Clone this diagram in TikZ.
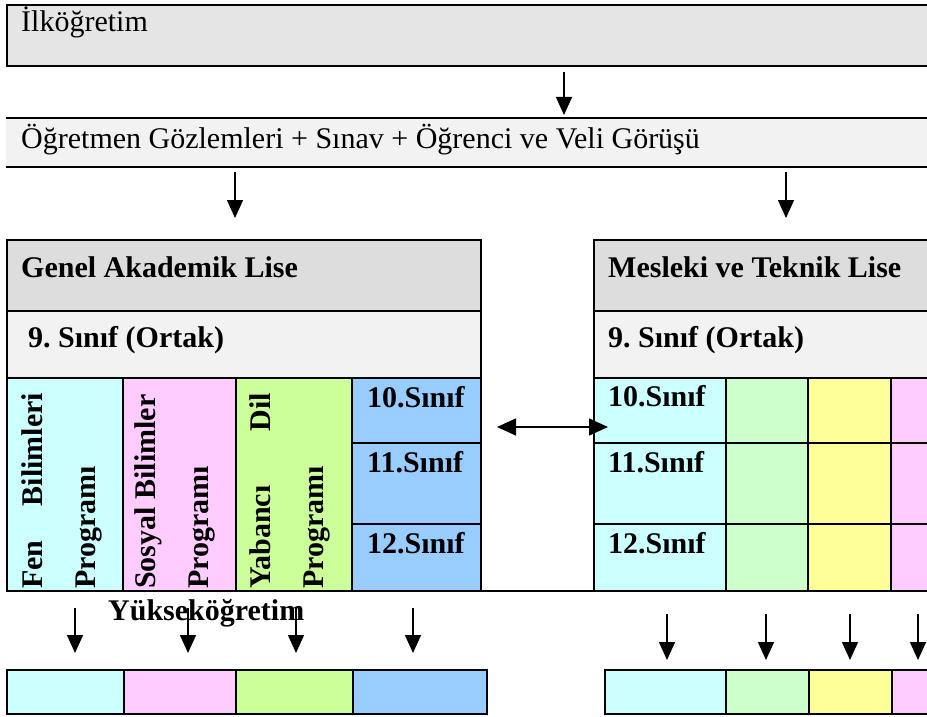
\documentclass[tikz,border=0pt]{standalone}
\usepackage{fontspec}
\setmainfont{Liberation Serif}
\usetikzlibrary{arrows.meta}

\definecolor{ilkgray}{HTML}{E5E5E5}
\definecolor{bandgray}{HTML}{F2F2F2}
\definecolor{headgray}{HTML}{DDDDDD}
\definecolor{fencyan}{HTML}{CCFFFF}
\definecolor{sospink}{HTML}{FFCCFF}
\definecolor{dilgreen}{HTML}{CCFF99}
\definecolor{sinblue}{HTML}{99CCFF}
\definecolor{mtgreen}{HTML}{CCFFCC}
\definecolor{mtyellow}{HTML}{FFFF99}

\tikzset{
  cell/.style={draw, line width=1.2pt, inner sep=0pt, outer sep=0pt, anchor=north west},
  frame/.style={draw, line width=2.8pt, inner sep=0pt, outer sep=0pt, anchor=north west},
  txt/.style={inner sep=0pt, anchor=base west, font=\fontsize{30}{34}\selectfont\frenchspacing},
  hdr/.style={txt, font=\fontsize{30}{34}\selectfont\frenchspacing\bfseries},
  vhdr/.style={hdr, rotate=90},
  arr/.style={-{Triangle[length=18pt,width=16pt]}, line width=1.4pt},
  dbl/.style={{Triangle[length=19pt,width=17pt]}-{Triangle[length=19pt,width=17pt]}, line width=1.4pt}
}

\begin{document}
\begin{tikzpicture}[x=1pt, y=-1pt]
\useasboundingbox (0,0) rectangle (927,717);
\fill[white] (0,0) rectangle (927,717);

% ilkogretim ve yonlendirme
\node[frame, fill=ilkgray, minimum width=940pt, minimum height=61pt] (ilk) at (7,5) {};
\node[txt] (ilktxt) at (21,32) {İlköğretim};
\node[cell, draw=none, fill=bandgray, minimum width=940pt, minimum height=49pt] (band) at (6,118) {};
\draw[line width=1.2pt] (band.north west) -- (band.north east);
\draw[line width=2.8pt] (band.south west) -- (band.south east);
\node[txt] (bandtxt) at (21,148) {Öğretmen Gözlemleri + Sınav + Öğrenci ve Veli Görüşü};

% genel akademik lise
\node[cell, fill=headgray, minimum width=474pt, minimum height=71pt] (ghead) at (7,240) {};
\node[cell, fill=bandgray, minimum width=474pt, minimum height=67pt] (gnine) at (7,311) {};
\node[cell, fill=fencyan, minimum width=116pt, minimum height=213pt] (gfen) at (7,378) {};
\node[cell, fill=sospink, minimum width=113pt, minimum height=213pt] (gsos) at (123,378) {};
\node[cell, fill=dilgreen, minimum width=116pt, minimum height=213pt] (gdil) at (236,378) {};
\node[cell, fill=sinblue, minimum width=129pt, minimum height=65pt] (g10) at (352,378) {};
\node[cell, fill=sinblue, minimum width=129pt, minimum height=81pt] (g11) at (352,443) {};
\node[cell, fill=sinblue, minimum width=129pt, minimum height=67pt] (g12) at (352,524) {};
\draw[line width=2.4pt] (ghead.south west) -- (ghead.south east);
\draw[line width=2.4pt] (gnine.south west) -- (gnine.south east);
\node[frame, minimum width=474pt, minimum height=351pt] (gen) at (7,240) {};

\node[hdr] (gheadtxt) at (21,277) {Genel Akademik Lise};
\node[hdr] (gninetxt) at (28,347) {9. Sınıf (Ortak)};
\node[hdr] (g10txt) at (367,407) {10.Sınıf};
\node[hdr] (g11txt) at (367,472) {11.Sınıf};
\node[hdr] (g12txt) at (367,553) {12.Sınıf};
\node[vhdr] (fen1) at (42,589) {\hbox to 196pt{Fen\hfill Bilimleri}};
\node[vhdr] (fen2) at (95,589) {Programı};
\node[vhdr] (sos1) at (155,589) {Sosyal Bilimler};
\node[vhdr] (sos2) at (208,589) {Programı};
\node[vhdr] (dil1) at (270,589) {\hbox to 196pt{Yabancı\hfill Dil}};
\node[vhdr] (dil2) at (323,589) {Programı};

% mesleki ve teknik lise
\node[cell, fill=headgray, minimum width=346pt, minimum height=71pt] (mhead) at (594,240) {};
\node[cell, fill=bandgray, minimum width=346pt, minimum height=67pt] (mnine) at (594,311) {};
\node[cell, fill=fencyan, minimum width=132pt, minimum height=213pt] (mcyan) at (594,378) {};
\node[cell, fill=mtgreen, minimum width=82pt, minimum height=213pt] (mgreen) at (726,378) {};
\node[cell, fill=mtyellow, minimum width=83pt, minimum height=213pt] (myellow) at (808,378) {};
\node[cell, fill=sospink, minimum width=49pt, minimum height=213pt] (mpink) at (891,378) {};
\draw[line width=1.6pt] (mcyan.west |- g11.north) -- (mpink.east |- g11.north);
\draw[line width=1.6pt] (mcyan.west |- g12.north) -- (mpink.east |- g12.north);
\draw[line width=2.4pt] (mhead.south west) -- (mhead.south east);
\draw[line width=2.4pt] (mnine.south west) -- (mnine.south east);
\node[frame, minimum width=346pt, minimum height=351pt] (mes) at (594,240) {};
\draw[line width=2.8pt] (gen.south east) -- (mes.south west);

\node[hdr] (mheadtxt) at (608,277) {Mesleki ve Teknik Lise};
\node[hdr] (mninetxt) at (608,347) {9. Sınıf (Ortak)};
\node[hdr] (m10txt) at (608,406) {10.Sınıf};
\node[hdr] (m11txt) at (608,472) {11.Sınıf};
\node[hdr] (m12txt) at (608,553) {12.Sınıf};

% yuksekogretim
\node[hdr] (yuk) at (108,620) {Yükseköğretim};
\node[cell, fill=fencyan, minimum width=117pt, minimum height=44pt] (yfen) at (7,670) {};
\node[cell, fill=sospink, minimum width=112pt, minimum height=44pt] (ysos) at (124,670) {};
\node[cell, fill=dilgreen, minimum width=117pt, minimum height=44pt] (ydil) at (236,670) {};
\node[cell, fill=sinblue, minimum width=134pt, minimum height=44pt] (ysin) at (353,670) {};
\node[frame, minimum width=480pt, minimum height=44pt] (ygen) at (7,670) {};
\node[cell, fill=fencyan, minimum width=121pt, minimum height=44pt] (ycyan) at (605,670) {};
\node[cell, fill=mtgreen, minimum width=83pt, minimum height=44pt] (ygreen) at (726,670) {};
\node[cell, fill=mtyellow, minimum width=83pt, minimum height=44pt] (yyellow) at (809,670) {};
\node[cell, fill=sospink, minimum width=48pt, minimum height=44pt] (ypink) at (892,670) {};
\node[frame, minimum width=335pt, minimum height=44pt] (ymes) at (605,670) {};

% oklar
\coordinate (a0) at (564,0);
\coordinate (a1) at (235,0);
\coordinate (a2) at (786,0);
\coordinate (b1) at (75,0);
\coordinate (b2) at (188,0);
\coordinate (b3) at (296,0);
\coordinate (b4) at (413,0);
\coordinate (c1) at (667,0);
\coordinate (c2) at (766,0);
\coordinate (c3) at (850,0);
\coordinate (c4) at (918,0);
\coordinate (dl) at (497,427);
\coordinate (dr) at (608,427);

\draw[arr, shorten <=6pt, shorten >=3pt] (ilk.south -| a0) -- (band.north -| a0);
\draw[arr, shorten <=5pt, shorten >=22pt] (band.south -| a1) -- (gen.north -| a1);
\draw[arr, shorten <=5pt, shorten >=22pt] (band.south -| a2) -- (mes.north -| a2);
\draw[arr, shorten <=17pt, shorten >=17pt] (gen.south -| b1) -- (ygen.north -| b1);
\draw[arr, shorten <=17pt, shorten >=17pt] (gen.south -| b2) -- (ygen.north -| b2);
\draw[arr, shorten <=17pt, shorten >=17pt] (gen.south -| b3) -- (ygen.north -| b3);
\draw[arr, shorten <=17pt, shorten >=17pt] (gen.south -| b4) -- (ygen.north -| b4);
\draw[arr, shorten <=23pt, shorten >=10pt] (mes.south -| c1) -- (ymes.north -| c1);
\draw[arr, shorten <=23pt, shorten >=10pt] (mes.south -| c2) -- (ymes.north -| c2);
\draw[arr, shorten <=23pt, shorten >=10pt] (mes.south -| c3) -- (ymes.north -| c3);
\draw[arr, shorten <=23pt, shorten >=10pt] (mes.south -| c4) -- (ymes.north -| c4);
\draw[dbl] (dl) -- (dr);
\end{tikzpicture}
\end{document}
